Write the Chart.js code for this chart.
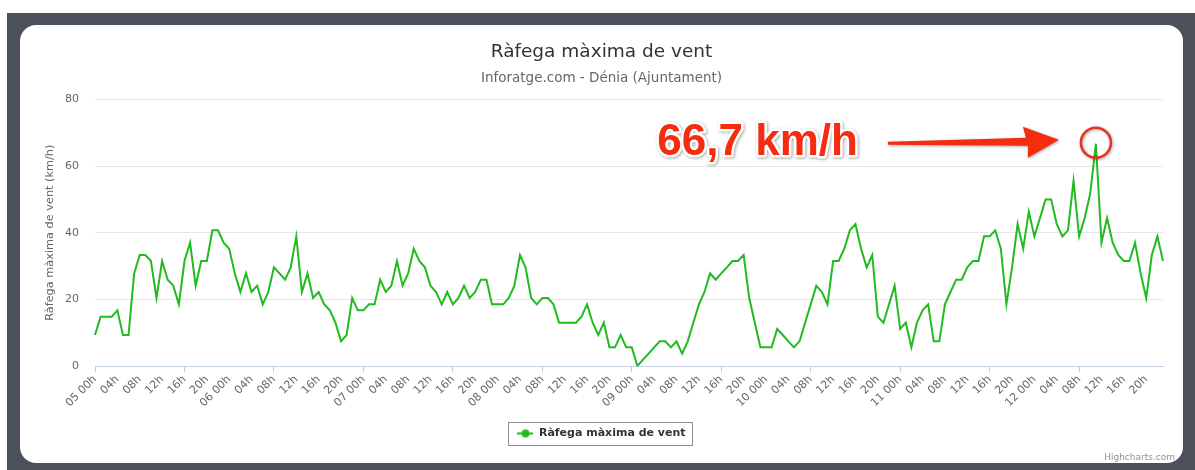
<!DOCTYPE html>
<html lang="ca">
<head>
<meta charset="utf-8">
<title>Ràfega màxima de vent</title>
<script src="https://cdn.jsdelivr.net/npm/chart.js@4.4.1/dist/chart.umd.min.js"></script>
<style>
  html, body { margin: 0; padding: 0; background: #fff; }
  body { width: 1195px; height: 470px; position: relative; overflow: hidden; font-family: "DejaVu Sans", sans-serif; }
  #moldura { position: absolute; left: 7px; top: 13px; width: 1188px; height: 457px; background: #4b505a; }
  #painel { position: absolute; left: 20px; top: 25px; width: 1163px; height: 438px; background: #fff; border-radius: 16px; overflow: hidden; }
  #grafic { display: block; width: 1163px; height: 438px; }
</style>
</head>
<body>
<div id="moldura"></div>
<div id="painel"><canvas id="grafic" width="1163" height="438"></canvas></div>
<script>
// Dies i hores de l'eix X (una dada per hora)
const dies = ['05', '06', '07', '08', '09', '10', '11', '12'];
const hores = ['00', '01', '02', '03', '04', '05', '06', '07', '08', '09', '10', '11',
               '12', '13', '14', '15', '16', '17', '18', '19', '20', '21', '22', '23'];

// Ràfega màxima (km/h), un valor per hora, del dia 05 00h al 12 23h
const rafegaDia05 = [9.3, 14.8, 14.8, 14.8, 16.7, 9.3, 9.3, 27.8, 33.3, 33.3, 31.5, 20.4,
                     31.5, 25.9, 24.1, 18.5, 31.5, 37.0, 24.1, 31.5, 31.5, 40.7, 40.7, 37.0];
const rafegaDia06 = [35.2, 27.8, 22.2, 27.8, 22.2, 24.1, 18.5, 22.2, 29.6, 27.8, 25.9, 29.6,
                     38.9, 22.2, 27.8, 20.4, 22.2, 18.5, 16.7, 13.0, 7.4, 9.3, 20.4, 16.7];
const rafegaDia07 = [16.7, 18.5, 18.5, 25.9, 22.2, 24.1, 31.5, 24.1, 27.8, 35.2, 31.5, 29.6,
                     24.1, 22.2, 18.5, 22.2, 18.5, 20.4, 24.1, 20.4, 22.2, 25.9, 25.9, 18.5];
const rafegaDia08 = [18.5, 18.5, 20.4, 24.1, 33.3, 29.6, 20.4, 18.5, 20.4, 20.4, 18.5, 13.0,
                     13.0, 13.0, 13.0, 14.8, 18.5, 13.0, 9.3, 13.0, 5.6, 5.6, 9.3, 5.6];
const rafegaDia09 = [5.6, 0, 1.9, 3.7, 5.6, 7.4, 7.4, 5.6, 7.4, 3.7, 7.4, 13.0,
                     18.5, 22.2, 27.8, 25.9, 27.8, 29.6, 31.5, 31.5, 33.3, 20.4, 13.0, 5.6];
const rafegaDia10 = [5.6, 5.6, 11.1, 9.3, 7.4, 5.6, 7.4, 13.0, 18.5, 24.1, 22.2, 18.5,
                     31.5, 31.5, 35.2, 40.7, 42.6, 35.2, 29.6, 33.3, 14.8, 13.0, 18.5, 24.1];
const rafegaDia11 = [11.1, 13.0, 5.6, 13.0, 16.7, 18.5, 7.4, 7.4, 18.5, 22.2, 25.9, 25.9,
                     29.6, 31.5, 31.5, 38.9, 38.9, 40.7, 35.2, 18.5, 29.6, 42.6, 35.2, 46.3];
const rafegaDia12 = [38.9, 44.4, 50.0, 50.0, 42.6, 38.9, 40.7, 55.6, 38.9, 44.4, 51.9, 66.7,
                     37.0, 44.4, 37.0, 33.3, 31.5, 31.5, 37.0, 27.8, 20.4, 33.3, 38.9, 31.5];

const rafega = [].concat(rafegaDia05, rafegaDia06, rafegaDia07, rafegaDia08,
                         rafegaDia09, rafegaDia10, rafegaDia11, rafegaDia12);

// Etiquetes: "05 00h" a mitjanit, "04h", "08h"... la resta
const etiquetes = [];
dies.forEach((dia) => {
  hores.forEach((hora) => {
    etiquetes.push(hora === '00' ? `${dia} 00h` : `${hora}h`);
  });
});

const ticksY = [0, 20, 40, 60, 80];
const textMaxim = '66,7 km/h';
const verd = '#1fbb1f';
const vermell = '#f42c10';

Chart.defaults.font.family = '"DejaVu Sans", sans-serif';

// Símbol de la llegenda: línia amb punt, com a Highcharts
function simbolLlegenda() {
  const c = document.createElement('canvas');
  c.width = 16;
  c.height = 10;
  const g = c.getContext('2d');
  g.strokeStyle = verd;
  g.lineWidth = 2;
  g.beginPath();
  g.moveTo(0, 5);
  g.lineTo(16, 5);
  g.stroke();
  g.fillStyle = verd;
  g.beginPath();
  g.arc(8, 5, 4, 0, Math.PI * 2);
  g.fill();
  return c;
}

// Marc de la llegenda, crèdit i anotació del màxim
const extres = {
  id: 'extres',
  afterDraw(chart) {
    const ctx = chart.ctx;
    const caixa = chart.legend.legendHitBoxes[0];
    ctx.save();
    if (caixa) {
      ctx.strokeStyle = '#909090';
      ctx.lineWidth = 1;
      ctx.strokeRect(Math.round(caixa.left - 9) + 0.5, Math.round(caixa.top - 6) + 0.5,
                     Math.round(caixa.width + 16), Math.round(caixa.height + 12));
    }

    ctx.font = '9px "DejaVu Sans"';
    ctx.fillStyle = '#909090';
    ctx.textAlign = 'right';
    ctx.textBaseline = 'alphabetic';
    ctx.fillText('Highcharts.com', chart.width - 8, chart.height - 3);

    // punt màxim
    const iMax = rafega.indexOf(Math.max(...rafega));
    const px = chart.scales.x.getPixelForValue(iMax);
    const py = chart.scales.y.getPixelForValue(rafega[iMax]);

    ctx.shadowColor = 'rgba(0,0,0,0.35)';
    ctx.shadowBlur = 3;
    ctx.shadowOffsetX = 1;
    ctx.shadowOffsetY = 1;

    // cercle
    ctx.strokeStyle = '#e8321e';
    ctx.lineWidth = 2.5;
    ctx.beginPath();
    ctx.arc(px, py - 1, 15, 0, Math.PI * 2);
    ctx.stroke();

    // fletxa
    ctx.fillStyle = vermell;
    ctx.beginPath();
    ctx.moveTo(px - 208, py - 2);
    ctx.lineTo(px - 70, py - 6);
    ctx.lineTo(px - 73, py - 17);
    ctx.lineTo(px - 37, py - 4);
    ctx.lineTo(px - 68, py + 14);
    ctx.lineTo(px - 68, py + 2);
    ctx.lineTo(px - 208, py + 1);
    ctx.closePath();
    ctx.fill();

    // text
    ctx.font = 'bold 44px "Liberation Sans"';
    ctx.textAlign = 'right';
    ctx.lineJoin = 'round';
    ctx.strokeStyle = '#fff';
    ctx.lineWidth = 5;
    ctx.strokeText(textMaxim, px - 238, py + 11);
    ctx.shadowColor = 'transparent';
    ctx.fillStyle = vermell;
    ctx.fillText(textMaxim, px - 238, py + 11);
    ctx.restore();
  }
};

const ctx = document.getElementById('grafic').getContext('2d');
const grafic = new Chart(ctx, {
  type: 'line',
  data: {
    labels: etiquetes,
    datasets: [{
      label: 'Ràfega màxima de vent',
      data: rafega,
      borderColor: verd,
      backgroundColor: verd,
      borderWidth: 2,
      pointRadius: 0,
      tension: 0
    }]
  },
  options: {
    responsive: false,
    animation: false,
    events: [],
    layout: { padding: { left: 20, right: 20, top: 0, bottom: 14 } },
    plugins: {
      title: {
        display: true,
        text: 'Ràfega màxima de vent',
        color: '#333',
        font: { size: 18.5, weight: 'normal' },
        padding: { top: 16, bottom: 0 }
      },
      subtitle: {
        display: true,
        text: 'Inforatge.com - Dénia (Ajuntament)',
        color: '#666',
        font: { size: 13.5 },
        padding: { top: 7, bottom: 13 }
      },
      legend: {
        position: 'bottom',
        labels: {
          usePointStyle: true,
          pointStyle: simbolLlegenda(),
          pointStyleWidth: 16,
          boxWidth: 16,
          color: '#333',
          font: { size: 11, weight: 'bold' },
          padding: 8
        }
      },
      tooltip: { enabled: false }
    },
    scales: {
      x: {
        offset: false,
        afterFit: (s) => { s.height = 54; },
        border: { color: '#C0D0E0' },
        grid: {
          drawOnChartArea: false,
          tickLength: 6,
          color: (c) => (c.index % 4 === 0 ? '#C0D0E0' : 'rgba(0,0,0,0)')
        },
        ticks: {
          autoSkip: false,
          minRotation: 45,
          maxRotation: 45,
          padding: 1,
          color: '#666',
          font: { size: 11 },
          callback: (v, i) => (i % 4 === 0 ? etiquetes[i] : null)
        }
      },
      y: {
        min: 0,
        max: 80,
        afterFit: (s) => { s.width = 55; },
        afterBuildTicks: (s) => { s.ticks = ticksY.map((v) => ({ value: v })); },
        border: { display: false },
        grid: { color: '#e6e6e6', drawTicks: false },
        ticks: { padding: 16, color: '#666', font: { size: 11 } },
        title: {
          display: true,
          text: 'Ràfega màxima de vent (km/h)',
          color: '#666',
          font: { size: 11.3 },
          padding: { top: 3, bottom: 0 }
        }
      }
    }
  },
  plugins: [extres]
});
</script>
</body>
</html>
